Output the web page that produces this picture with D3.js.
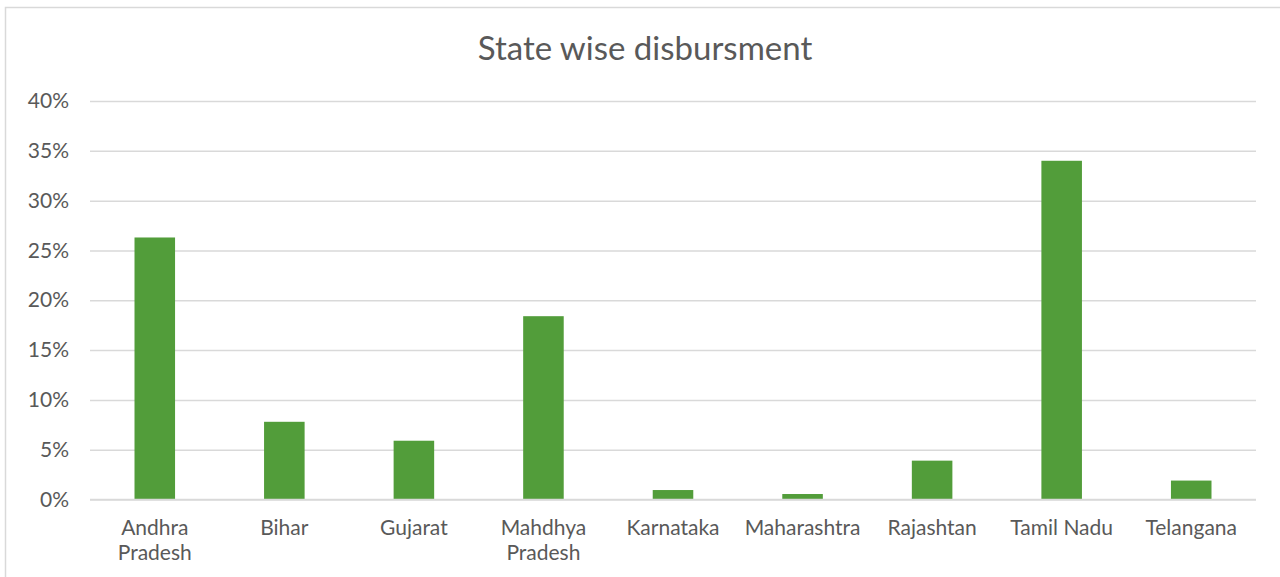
<!DOCTYPE html>
<html>
<head>
<meta charset="utf-8">
<script src="https://cdn.jsdelivr.net/npm/d3@7"></script>
<style>
	body { margin: 0; background: #fff; }
	svg { display: block; font-family: Lato, "Noto Sans", sans-serif; }
</style>
</head>
<body>
<svg id="chart" width="1280" height="577"></svg>
<script>
var states = ['Andhra Pradesh', 'Bihar', 'Gujarat', 'Mahdhya Pradesh', 'Karnataka', 'Maharashtra', 'Rajashtan', 'Tamil Nadu', 'Telangana'];
var shares = [0.263, 0.078, 0.059, 0.184, 0.0095, 0.0055, 0.039, 0.34, 0.019];
var yTicks = [0, 0.05, 0.10, 0.15, 0.20, 0.25, 0.30, 0.35, 0.40];

var svg = d3.select('#chart');
var margin = {left: 90, right: 24, top: 101, bottom: 77};
var width = 1280 - margin.left - margin.right;
var height = 577 - margin.top - margin.bottom - 0.5;

// chart area border
svg.append('rect')
	.attr('x', 5.5).attr('y', 7.5)
	.attr('width', 1290).attr('height', 590)
	.attr('fill', 'none')
	.attr('stroke', '#d9d9d9')
	.attr('stroke-width', 1.5);

svg.append('text')
	.attr('x', 645).attr('y', 60)
	.attr('text-anchor', 'middle')
	.attr('font-size', 33)
	.attr('fill', '#595959')
	.text('State wise disbursment');

var g = svg.append('g')
	.attr('transform', 'translate(' + margin.left + ',' + margin.top + ')');

var x = d3.scaleBand()
	.domain(states)
	.range([0, width])
	.paddingInner(0.687)
	.paddingOuter(0.3435);

var y = d3.scaleLinear()
	.domain([0, 0.4])
	.range([height, 0]);

var yAxis = g.append('g')
	.call(d3.axisLeft(y).tickValues(yTicks).tickFormat(d3.format('.0%')).tickSize(-width).tickPadding(21));
yAxis.select('.domain').remove();
yAxis.selectAll('.tick line').attr('stroke', '#d9d9d9').attr('stroke-width', 1.5);
yAxis.selectAll('.tick text').attr('fill', '#595959').attr('font-size', 21).attr('font-family', 'Lato, sans-serif');

g.selectAll('rect.bar')
	.data(states)
	.enter().append('rect')
	.attr('class', 'bar')
	.attr('x', function(d) { return x(d); })
	.attr('width', x.bandwidth())
	.attr('y', function(d, i) { return y(shares[i]); })
	.attr('height', function(d, i) { return height - y(shares[i]); })
	.attr('fill', '#529d3a');

// redraw baseline over bars
g.append('line')
	.attr('x1', 0).attr('x2', width)
	.attr('y1', height).attr('y2', height)
	.attr('stroke', '#d9d9d9').attr('stroke-width', 1.5);

var labels = g.append('g')
	.attr('transform', 'translate(0,' + height + ')')
	.selectAll('text')
	.data(states)
	.enter().append('text')
	.attr('x', function(d) { return x(d) + x.bandwidth() / 2; })
	.attr('y', 35)
	.attr('text-anchor', 'middle')
	.attr('font-size', 21)
	.attr('fill', '#595959')
	.text(function(d) { return d; });

// wrap the long ones onto two lines, like Excel does
labels.each(function(d) {
	var t = d3.select(this);
	if (this.getComputedTextLength() > x.step() - 4 && d.indexOf(' ') > 0) {
		var parts = d.split(' ');
		t.text(null);
		parts.forEach(function(p, k) {
			t.append('tspan')
				.attr('x', x(d) + x.bandwidth() / 2)
				.attr('dy', k === 0 ? 0 : 25)
				.text(p);
		});
	}
});
</script>
</body>
</html>
